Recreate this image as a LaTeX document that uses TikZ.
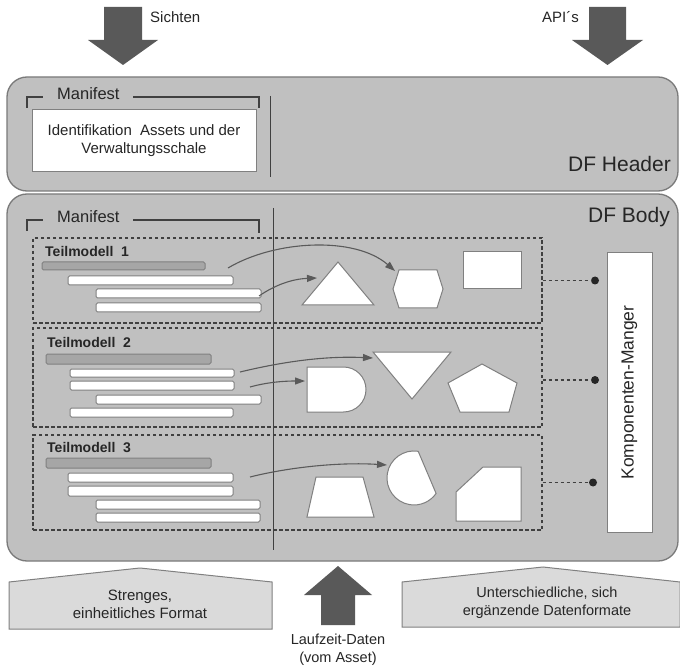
\documentclass[tikz,border=0pt]{standalone}
\usepackage{fontspec}
\setmainfont{Liberation Sans}
\usetikzlibrary{arrows.meta}
\definecolor{boxfill}{HTML}{C0C0C0}
\definecolor{boxline}{HTML}{7A7A7A}
\definecolor{darkline}{HTML}{404040}
\definecolor{bigarrow}{HTML}{595959}
\definecolor{barfill}{HTML}{A6A6A6}
\definecolor{shapeline}{HTML}{808080}
\definecolor{housefill}{HTML}{DADADA}
\definecolor{txt}{HTML}{262626}
\definecolor{curvecol}{HTML}{5A5A5A}
\begin{document}
\begin{tikzpicture}[x=1pt,y=-1pt,
  panel/.style={fill=boxfill,draw=boxline,line width=1.3pt,rounded corners=20pt},
  bigarr/.style={fill=bigarrow,draw=none},
  lbl/.style={inner sep=0pt,text=txt,font=\fontsize{15}{18}\selectfont},
  headtxt/.style={inner sep=0pt,text=txt,font=\fontsize{21}{24}\selectfont},
  maniftxt/.style={inner sep=0pt,text=txt,font=\fontsize{16.5}{19}\selectfont},
  tmtxt/.style={inner sep=0pt,text=txt,font=\bfseries\fontsize{14}{17}\selectfont},
  bracket/.style={draw=darkline,line width=1.2pt},
  divider/.style={draw=darkline,line width=1pt},
  tmbox/.style={draw=darkline,dash pattern=on 3.5pt off 2.5pt,line width=1.1pt,minimum width=509pt,inner sep=0pt},
  greybar/.style={fill=barfill,draw=shapeline,line width=1pt,rounded corners=1.5pt},
  whitebar/.style={fill=white,draw=shapeline,line width=1pt,rounded corners=1.5pt},
  shp/.style={fill=white,draw=shapeline,line width=1pt},
  curvearr/.style={draw=curvecol,line width=1.1pt,-{Triangle[length=10pt,width=7pt]}},
  dot/.style={circle,fill=txt,inner sep=0pt,minimum size=8pt},
  dashcon/.style={draw=darkline,dash pattern=on 3.5pt off 2.5pt,line width=1.1pt},
  house/.style={fill=housefill,draw=shapeline,line width=1pt}]
\useasboundingbox (0,0) rectangle (680,668);
\fill[white] (0,0) rectangle (680,668);

% top arrows
\fill[bigarr] (104,7) -- (142,7) -- (142,40) -- (158,40) -- (123,65) -- (88,40) -- (104,40) -- cycle;
\node[lbl,anchor=base west] (sichten) at (150,23) {Sichten};
\fill[bigarr] (589,7) -- (626,7) -- (626,40) -- (643,40) -- (607.5,65) -- (572,40) -- (589,40) -- cycle;
\node[lbl,anchor=base east] (apis) at (579,23) {API´s};

% header
\draw[panel] (7,77) rectangle (678,191);
\draw[bracket] (27,108) -- (27,97) -- (43,97);
\draw[bracket] (133,97) -- (259,97) -- (259,108);
\node[maniftxt,anchor=base west] (manif1) at (57,100) {Manifest};
\node[fill=white,draw=shapeline,line width=1pt,minimum width=224pt,minimum height=62pt,inner sep=0pt,
      align=center,text=txt,font=\fontsize{15}{18}\selectfont] (ident) at (144,141)
      {Identifikation\ \ Assets und der\\Verwaltungsschale};
\draw[divider] (270,96) -- (270,177);
\node[headtxt,anchor=base east] (dfh) at (671,172) {DF Header};

% body
\draw[panel] (7,194) rectangle (678,561);
\draw[bracket] (27,231) -- (27,220) -- (43,220);
\draw[bracket] (133,220) -- (259,220) -- (259,233);
\node[maniftxt,anchor=base west] (manif2) at (57,223) {Manifest};
\node[headtxt,anchor=base east] (dfb) at (670,223) {DF Body};

% Teilmodell boxes
\node[tmbox,minimum height=85pt] (tm1) at (287.5,280.5) {};
\node[tmbox,minimum height=99pt] (tm2) at (287.5,377.5) {};
\node[tmbox,minimum height=95pt] (tm3) at (287.5,482.5) {};

\draw[divider] (273,208) -- (273,550);

% Teilmodell 1
\node[tmtxt,anchor=base west] (t1) at (45,257) {Teilmodell\ \ 1};
\draw[greybar] (42,262) rectangle (205,270);
\draw[whitebar] (68,276) rectangle (233,285);
\draw[whitebar] (96,289) rectangle (261,298);
\draw[whitebar] (96,303) rectangle (261,312);
\draw[shp] (338,262) -- (374,305) -- (302,305) -- cycle;
\draw[shp] (399,270) -- (437,270) -- (443,289) -- (437,308) -- (399,308) -- (393,289) -- cycle;
\draw[shp] (463,252) rectangle (521,289);
\coordinate (a1s) at (228,268);
\coordinate (a1e) at (395,271);
\coordinate (b1s) at (259,296);
\coordinate (b1e) at (317,278);
\draw[curvearr] (a1s) .. controls (275,240) and (355,236) .. (a1e);
\draw[curvearr] (b1s) .. controls (275,285) and (292,279) .. (b1e);

% Teilmodell 2
\node[tmtxt,anchor=base west] (t2) at (47,347) {Teilmodell\ \ 2};
\draw[greybar] (46,354) rectangle (211,364);
\draw[whitebar] (70,369) rectangle (234,377);
\draw[whitebar] (70,381) rectangle (234,390);
\draw[whitebar] (96,395) rectangle (261,404);
\draw[whitebar] (70,408) rectangle (233,417);
\draw[shp] (307,367) -- (343.5,367) arc[start angle=-90,end angle=90,radius=22.5] -- (307,412) -- cycle;
\draw[shp] (373,352) -- (451,352) -- (412,399) -- cycle;
\draw[shp] (482,364) -- (517,383) -- (509,412) -- (460,412) -- (448,383) -- cycle;
\coordinate (a2s) at (240,372);
\coordinate (a2e) at (373,358);
\coordinate (b2s) at (250,387);
\coordinate (b2e) at (305,381);
\draw[curvearr] (a2s) .. controls (290,360) and (330,356) .. (a2e);
\draw[curvearr] (b2s) .. controls (268,382) and (285,381) .. (b2e);

% Teilmodell 3
\node[tmtxt,anchor=base west] (t3) at (47,452) {Teilmodell\ \ 3};
\draw[greybar] (46,458) rectangle (211,468);
\draw[whitebar] (68,473) rectangle (233,482);
\draw[whitebar] (68,486) rectangle (233,496);
\draw[whitebar] (96,500) rectangle (260,509);
\draw[whitebar] (96,513) rectangle (260,522);
\draw[shp] (316,477) -- (363,477) -- (374,517) -- (307,517) -- cycle;
\draw[shp] (418.2,451.3) arc[start angle=-81,end angle=-325,radius=27] -- cycle;
\draw[shp] (483,467) -- (521,467) -- (521,521) -- (456,521) -- (456,492) -- cycle;
\coordinate (a3s) at (250,477);
\coordinate (a3e) at (387,465);
\draw[curvearr] (a3s) .. controls (290,467) and (340,462) .. (a3e);

% Komponenten-Manager
\node[fill=white,draw=shapeline,line width=1pt,minimum width=45pt,minimum height=279pt,inner sep=0pt] (km) at (629.5,392.5) {};
\node[inner sep=0pt,text=txt,font=\fontsize{17.5}{20}\selectfont,rotate=90] (kmt) at (km.center) {Komponenten-Manger};
\node[dot] (d1) at (595,280.5) {};
\node[dot] (d2) at (595,380) {};
\node[dot] (d3) at (593,482.5) {};
\draw[dashcon] (tm1.east) -- (d1);
\draw[dashcon] (tm2.east |- d2) -- (d2);
\draw[dashcon] (tm3.east) -- (d3);

% bottom
\draw[house] (9,582) -- (140,568) -- (272,582) -- (272,629) -- (9,629) -- cycle;
\node[lbl,align=center] (strenges) at (140,604) {Strenges,\\einheitliches Format};
\fill[bigarr] (321,625) -- (355,625) -- (355,595) -- (372,595) -- (338,566) -- (304,595) -- (321,595) -- cycle;
\node[lbl,align=center,font=\fontsize{14.5}{18}\selectfont] (laufzeit) at (338,650) {Laufzeit-Daten\\(vom Asset)};
\draw[house] (402,582) -- (543,567) -- (680,582) -- (680,627) -- (402,627) -- cycle;
\node[lbl,align=center,font=\fontsize{14.5}{18}\selectfont] (unters) at (547,603) {Unterschiedliche, sich\\ergänzende Datenformate};
\end{tikzpicture}
\end{document}
